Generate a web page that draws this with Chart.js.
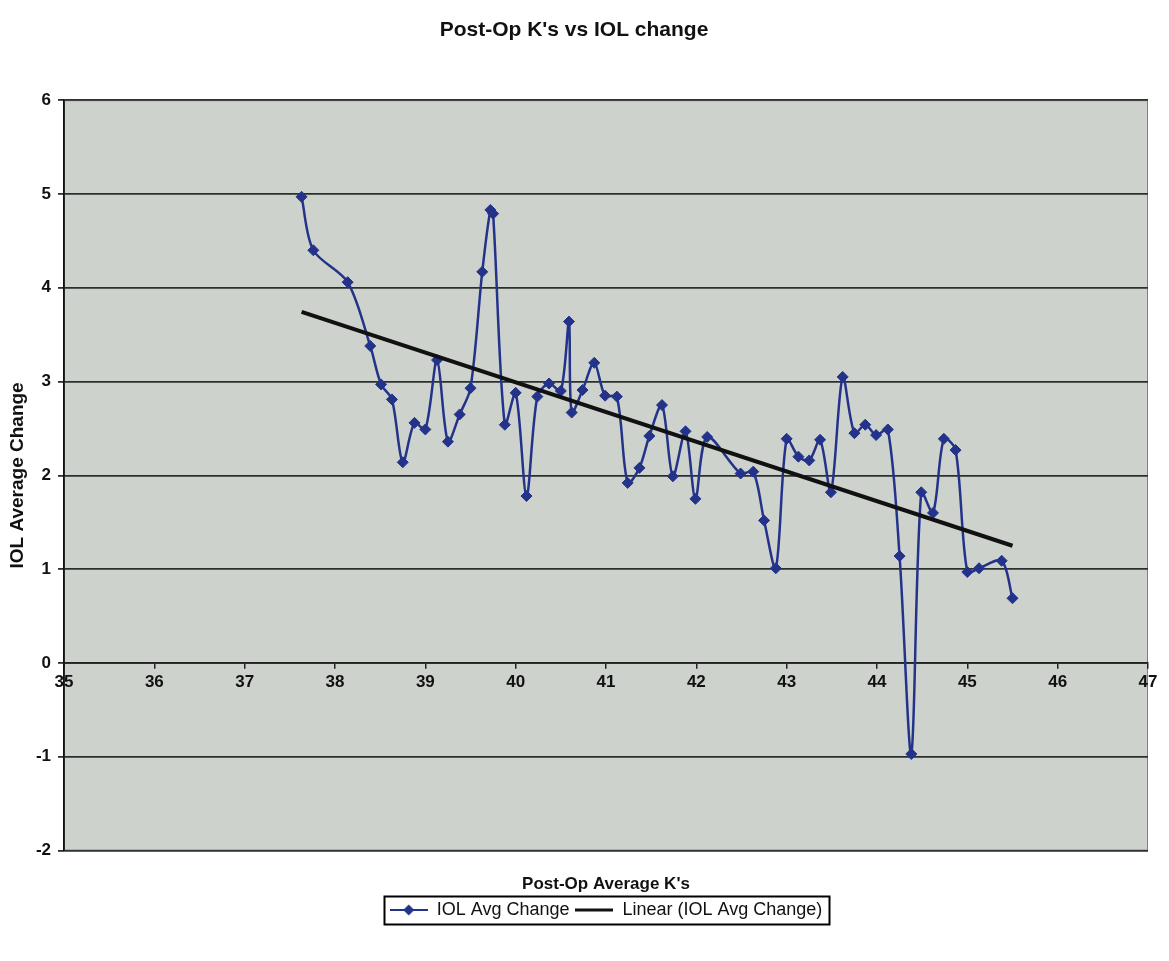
<!DOCTYPE html>
<html>
<head>
<meta charset="utf-8">
<script src="https://cdn.jsdelivr.net/npm/chart.js@4.4.1/dist/chart.umd.min.js"></script>
<style>
  html, body { margin: 0; padding: 0; background: #ffffff; }
  #iol_chart { display: block; }
</style>
</head>
<body>
<canvas id="iol_chart" width="1169" height="961"></canvas>
<script>
// post-op average K readings (x) and IOL average change (y)
var postOpK = [37.63, 37.76, 38.14, 38.39, 38.51, 38.63, 38.75, 38.88, 39.00, 39.13,
               39.25, 39.38, 39.50, 39.63, 39.72, 39.75, 39.88, 40.00, 40.12, 40.24,
               40.37, 40.50, 40.59, 40.62, 40.74, 40.87, 40.99, 41.12, 41.24, 41.37,
               41.48, 41.62, 41.74, 41.88, 41.99, 42.12, 42.49, 42.63, 42.75, 42.88,
               43.00, 43.13, 43.25, 43.37, 43.49, 43.62, 43.75, 43.87, 43.99, 44.12,
               44.25, 44.38, 44.49, 44.62, 44.74, 44.87, 45.00, 45.13, 45.38, 45.50];
var iolChange = [4.97, 4.40, 4.06, 3.38, 2.97, 2.81, 2.14, 2.56, 2.49, 3.23,
                 2.36, 2.65, 2.93, 4.17, 4.83, 4.79, 2.54, 2.88, 1.78, 2.84,
                 2.98, 2.90, 3.64, 2.67, 2.91, 3.20, 2.85, 2.84, 1.92, 2.08,
                 2.42, 2.75, 1.99, 2.47, 1.75, 2.41, 2.02, 2.04, 1.52, 1.01,
                 2.39, 2.20, 2.16, 2.38, 1.82, 3.05, 2.45, 2.54, 2.43, 2.49,
                 1.14, -0.97, 1.82, 1.60, 2.39, 2.27, 0.97, 1.01, 1.09, 0.69];
var seriesNames = ['IOL Avg Change', 'Linear (IOL Avg Change)'];
var xTickRange = [35, 47];
var yTickRange = [-2, 6];

var FONT = '"Liberation Sans", Arial, sans-serif';
var NAVY = '#24338a';

// excel style linear trendline (least squares over the series)
function linearFit(xs, ys) {
    var n = xs.length, sx = 0, sy = 0, sxy = 0, sxx = 0;
    for (var i = 0; i < n; i++) {
        sx += xs[i]; sy += ys[i]; sxy += xs[i] * ys[i]; sxx += xs[i] * xs[i];
    }
    var slope = (n * sxy - sx * sy) / (n * sxx - sx * sx);
    var icpt = (sy - slope * sx) / n;
    var x0 = Math.min.apply(null, xs), x1 = Math.max.apply(null, xs);
    return [{x: x0, y: icpt + slope * x0}, {x: x1, y: icpt + slope * x1}];
}

var points = postOpK.map(function (k, i) { return {x: k, y: iolChange[i]}; });
var trend = linearFit(postOpK, iolChange);

// little legend symbols: line with a diamond, and plain black line
function legendSymbol(color, width, diamond) {
    var c = document.createElement('canvas');
    c.width = 38; c.height = 14;
    var g = c.getContext('2d');
    g.strokeStyle = color; g.lineWidth = width;
    g.beginPath(); g.moveTo(0, 7); g.lineTo(38, 7); g.stroke();
    if (diamond) {
        g.fillStyle = color;
        g.beginPath(); g.moveTo(19, 1.5); g.lineTo(24.5, 7); g.lineTo(19, 12.5); g.lineTo(13.5, 7); g.closePath(); g.fill();
    }
    return c;
}
var symbols = [legendSymbol(NAVY, 2, true), legendSymbol('#111111', 3, false)];

var plotBackground = {
    id: 'plotBackground',
    beforeDraw: function (chart) {
        var a = chart.chartArea, ctx = chart.ctx;
        ctx.save();
        ctx.fillStyle = '#cdd2cd';
        ctx.fillRect(a.left, a.top, a.right - a.left, a.bottom - a.top);
        ctx.strokeStyle = '#7d827e';
        ctx.lineWidth = 1;
        ctx.strokeRect(a.left + 0.5, a.top + 0.5, a.right - a.left - 1, a.bottom - a.top - 1);
        ctx.restore();
    }
};

var legendFrame = {
    id: 'legendFrame',
    afterDraw: function (chart) {
        var boxes = chart.legend.legendHitBoxes;
        if (!boxes || !boxes.length) return;
        var l = Infinity, r = -Infinity, t = Infinity, b = -Infinity;
        boxes.forEach(function (h) {
            l = Math.min(l, h.left); r = Math.max(r, h.left + h.width);
            t = Math.min(t, h.top); b = Math.max(b, h.top + h.height);
        });
        var ctx = chart.ctx;
        ctx.save();
        ctx.strokeStyle = '#000000';
        ctx.lineWidth = 2;
        ctx.strokeRect(Math.round(l - 6) + 0.5, Math.round(t - 5) + 0.5, Math.round(r - l + 12), Math.round(b - t + 10));
        ctx.restore();
    }
};

var iol_config = {
    type: 'line',
    data: {
        datasets: [{
            label: seriesNames[0],
            data: points,
            borderColor: NAVY,
            backgroundColor: NAVY,
            borderWidth: 2.5,
            tension: 0.3,
            pointStyle: 'rectRot',
            pointRadius: 5.5,
            pointBackgroundColor: NAVY,
            pointBorderColor: NAVY,
            pointBorderWidth: 1,
            order: 2
        }, {
            label: seriesNames[1],
            data: trend,
            borderColor: '#111111',
            backgroundColor: '#111111',
            borderWidth: 4,
            pointRadius: 0,
            tension: 0,
            order: 1
        }]
    },
    options: {
        responsive: false,
        animation: false,
        layout: {
            padding: {top: 0, left: 0, right: 21, bottom: 32}
        },
        plugins: {
            title: {
                display: true,
                text: "Post-Op K's vs IOL change",
                color: '#111111',
                font: {family: FONT, size: 21, weight: 'bold'},
                padding: {top: 18, bottom: 57}
            },
            subtitle: {
                display: true,
                position: 'bottom',
                fullSize: false,
                weight: 500,
                text: "Post-Op Average K's",
                color: '#111111',
                font: {family: FONT, size: 17, weight: 'bold'},
                padding: {top: 24, bottom: 0}
            },
            legend: {
                position: 'bottom',
                fullSize: false,
                weight: 2000,
                labels: {
                    usePointStyle: true,
                    pointStyleWidth: 38,
                    padding: 6,
                    color: '#111111',
                    font: {family: FONT, size: 18},
                    generateLabels: function (chart) {
                        return chart.data.datasets.map(function (ds, i) {
                            return {
                                text: ds.label,
                                pointStyle: symbols[i],
                                fillStyle: ds.borderColor,
                                strokeStyle: ds.borderColor,
                                lineWidth: 0,
                                hidden: false,
                                datasetIndex: i,
                                fontColor: '#111111'
                            };
                        });
                    }
                }
            },
            tooltip: {enabled: false}
        },
        scales: {
            x: {
                type: 'linear',
                position: {y: 0},
                min: xTickRange[0],
                max: xTickRange[1],
                ticks: {
                    stepSize: 1,
                    color: '#111111',
                    padding: 4,
                    maxRotation: 0,
                    font: {family: FONT, size: 17, weight: 'bold'}
                },
                grid: {
                    display: true,
                    drawOnChartArea: false,
                    drawTicks: true,
                    tickLength: 5,
                    color: '#222222',
                    lineWidth: 1.5
                },
                border: {display: true, color: '#222222', width: 1.8}
            },
            y: {
                type: 'linear',
                min: yTickRange[0],
                max: yTickRange[1],
                afterFit: function (scale) { scale.width = 64; },
                ticks: {
                    stepSize: 1,
                    color: '#111111',
                    padding: 7,
                    font: {family: FONT, size: 17, weight: 'bold'}
                },
                grid: {
                    color: '#2c302d',
                    lineWidth: 1.8,
                    tickLength: 6
                },
                border: {display: true, color: '#111111', width: 1.8},
                title: {
                    display: true,
                    text: 'IOL Average Change',
                    color: '#111111',
                    font: {family: FONT, size: 19, weight: 'bold'},
                    padding: {top: 6, bottom: 0}
                }
            }
        }
    },
    plugins: [plotBackground, legendFrame]
};

var $element = document.getElementById('iol_chart');
var iolchart = new Chart($element.getContext('2d'), iol_config);
</script>
</body>
</html>
